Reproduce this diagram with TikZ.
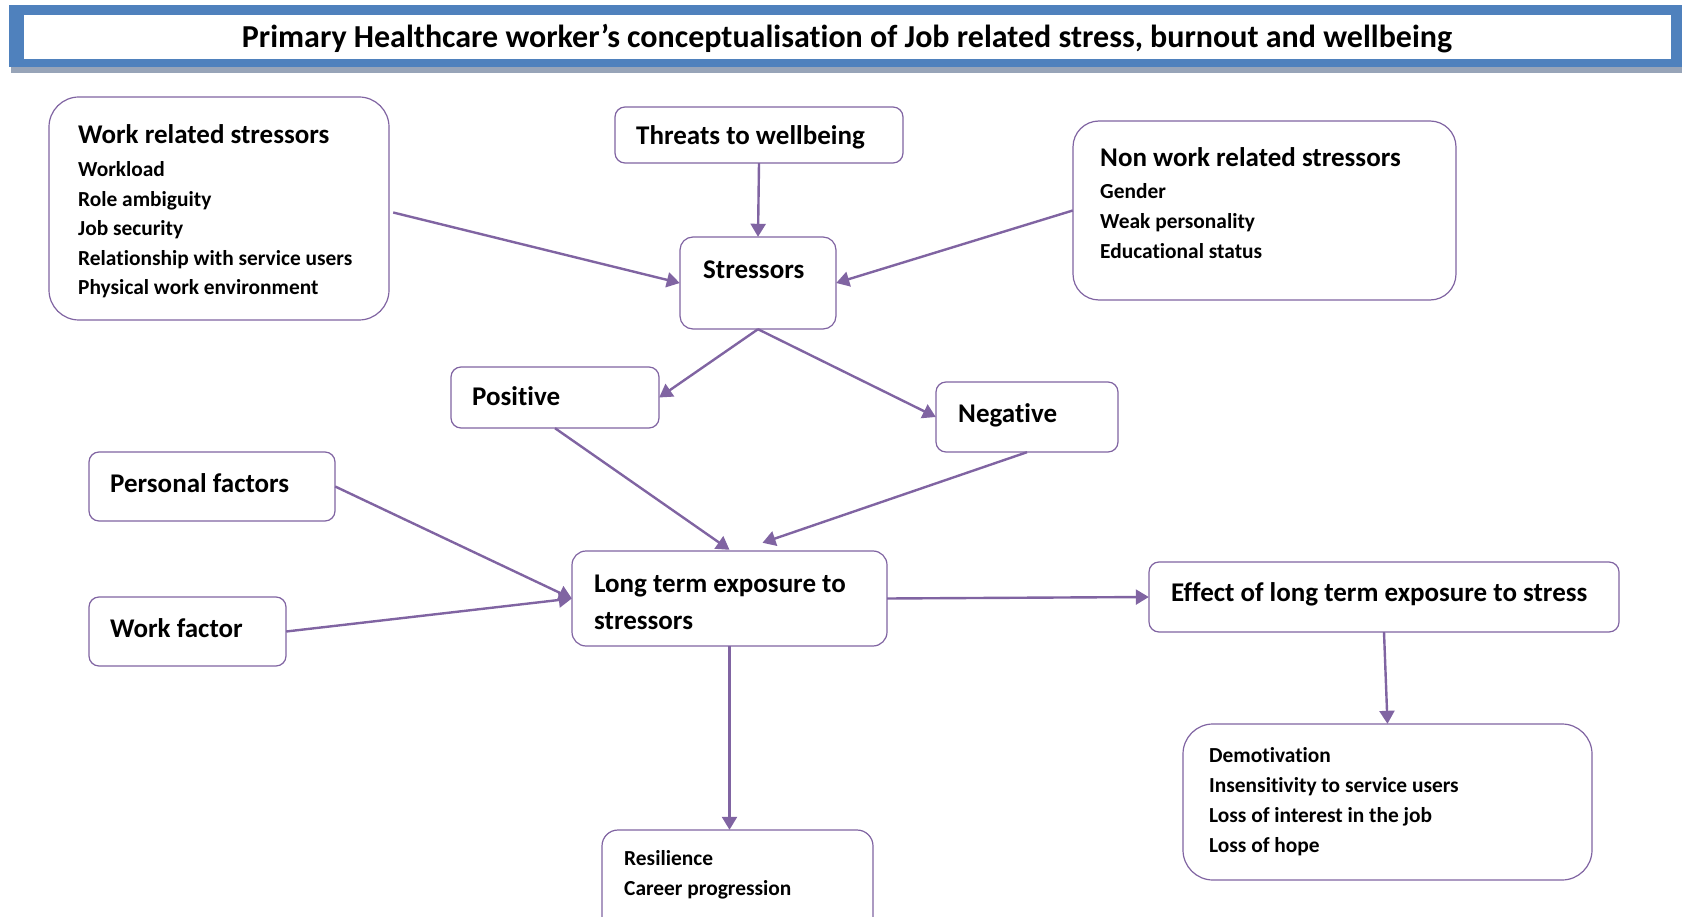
\documentclass[tikz,border=0pt]{standalone}
\usepackage{fontspec}
\setmainfont{Carlito}[Ligatures=NoCommon]
\usetikzlibrary{arrows.meta,calc}
\definecolor{frameblue}{HTML}{4F81BD}
\definecolor{shadowgrey}{HTML}{97A4B8}
\definecolor{purp}{HTML}{8064A2}
\begin{document}
\begin{tikzpicture}[x=1pt,y=-1pt,
  box/.style={draw=purp, line width=1.2pt, fill=white, inner sep=0pt},
  big/.style={box, rounded corners=30pt},
  small/.style={box, rounded corners=10pt},
  head/.style={font=\bfseries\fontsize{27}{32}\selectfont, anchor=base west, inner sep=0pt, yshift=-2pt},
  item/.style={font=\bfseries\fontsize{21.4}{30}\selectfont, anchor=base west, inner sep=0pt, yshift=-2pt},
  arr/.style={draw=purp, line width=2.4pt, -{Triangle[length=13pt,width=15pt]}}]
\useasboundingbox (0,0) rectangle (1682,917);
% title bar
\fill[shadowgrey] (11,67) rectangle (1682,73);
\fill[frameblue] (9,5) rectangle (1682,67);
\fill[white] (24,15) rectangle (1671,59);
\node[font=\bfseries\fontsize{32}{36}\selectfont, inner sep=0pt, anchor=base] (title) at (847,48)
  {Primary Healthcare worker’s conceptualisation of Job related stress, burnout and wellbeing};
% boxes
\path[big] (49,97) rectangle (389,320);
\node[inner sep=0pt, minimum width=340pt, minimum height=223pt] (wrs) at (219,208.5) {};
\path[small] (615,107) rectangle (903,163);
\node[inner sep=0pt, minimum width=288pt, minimum height=56pt] (thr) at (759,135) {};
\path[box, rounded corners=13pt] (680,237) rectangle (836,329);
\node[inner sep=0pt, minimum width=156pt, minimum height=92pt] (str) at (758,283) {};
\path[big, rounded corners=26pt] (1073,121) rectangle (1456,300);
\node[inner sep=0pt, minimum width=383pt, minimum height=179pt] (nwr) at (1264.5,210.5) {};
\path[small] (451,367) rectangle (659,428);
\node[inner sep=0pt, minimum width=208pt, minimum height=61pt] (pos) at (555,397.5) {};
\path[small] (936,382) rectangle (1118,452);
\node[inner sep=0pt, minimum width=182pt, minimum height=70pt] (neg) at (1027,417) {};
\path[small] (89,452) rectangle (335,521);
\node[inner sep=0pt, minimum width=246pt, minimum height=69pt] (pf) at (212,486.5) {};
\path[small] (89,597) rectangle (286,666);
\node[inner sep=0pt, minimum width=197pt, minimum height=69pt] (wf) at (187.5,631.5) {};
\path[box, rounded corners=14pt] (572,551) rectangle (887,646);
\node[inner sep=0pt, minimum width=315pt, minimum height=95pt] (lte) at (729.5,598.5) {};
\path[small] (1149,562) rectangle (1619,632);
\node[inner sep=0pt, minimum width=470pt, minimum height=70pt] (eff) at (1384,597) {};
\path[big] (1183,724) rectangle (1592,880);
\node[inner sep=0pt, minimum width=409pt, minimum height=156pt] (dem) at (1387.5,802) {};
\path[box, rounded corners=16pt] (602,830) rectangle (873,940);
\node[inner sep=0pt, minimum width=271pt, minimum height=110pt] (res) at (737.5,885) {};
% texts
\node[head] (t1) at (78,142) {Work related stressors};
\node[item] (t1a) at (78,175) {Workload};
\node[item] (t1b) at (78,204.5) {Role ambiguity};
\node[item] (t1c) at (78,234) {Job security};
\node[item] (t1d) at (78,263.5) {Relationship with service users};
\node[item] (t1e) at (78,293) {Physical work environment};
\node[head] (t2) at (636,143) {Threats to wellbeing};
\node[head] (t3) at (703,276.5) {Stressors};
\node[head] (t4) at (1100,165) {Non work related stressors};
\node[item] (t4a) at (1100,196.5) {Gender};
\node[item] (t4b) at (1100,226.5) {Weak personality};
\node[item] (t4c) at (1100,256.5) {Educational status};
\node[head] (t5) at (472,403) {Positive};
\node[head] (t6) at (958,420) {Negative};
\node[head] (t7) at (110,490) {Personal factors};
\node[head] (t8) at (110,635) {Work factor};
\node[head] (t9) at (594,590) {Long term exposure to};
\node[head] (t9b) at (594,627) {stressors};
\node[head] (t10) at (1171,599) {Effect of long term exposure to stress};
\node[item] (t11a) at (1209,760.5) {Demotivation};
\node[item] (t11b) at (1209,790.5) {Insensitivity to service users};
\node[item] (t11c) at (1209,820.5) {Loss of interest in the job};
\node[item] (t11d) at (1209,850.5) {Loss of hope};
\node[item] (t12a) at (624,863) {Resilience};
\node[item] (t12b) at (624,893) {Career progression};
% arrows
\draw[arr] ($(wrs.east)+(4,4)$) -- (str.west);
\draw[arr] (thr.south) -- (str.north);
\draw[arr] (nwr.west) -- (str.east);
\draw[arr] (str.south) -- (pos.east);
\draw[arr] (str.south) -- (neg.west);
\draw[arr] (pos.south) -- ($(lte.north)+(0,-1)$);
\draw[arr] (neg.south) -- ($(lte.north)+(33,-8)$);
\draw[arr] (pf.east) -- (lte.west);
\draw[arr] (wf.east) -- (lte.west);
\draw[arr] (lte.east) -- (eff.west);
\draw[arr] (eff.south) -- (dem.north);
\draw[arr] (lte.south) -- (lte.south |- res.north);
\end{tikzpicture}
\end{document}
